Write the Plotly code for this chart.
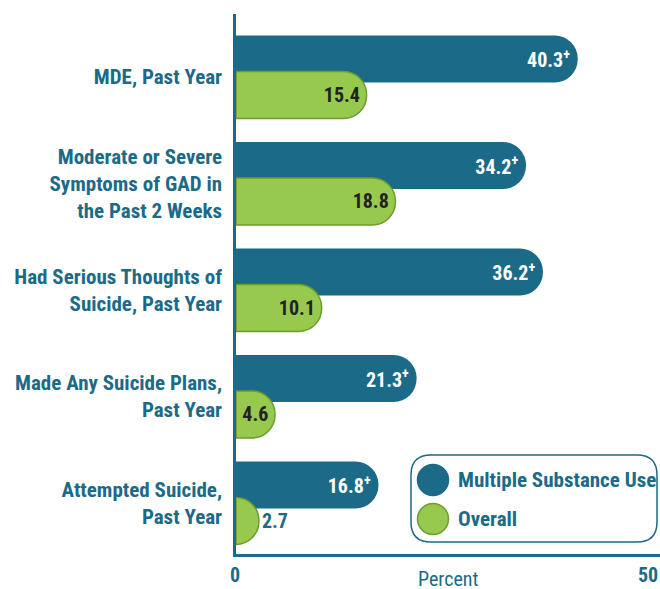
import plotly.graph_objects as go

categories = [
    "MDE, Past Year",
    "Moderate or Severe<br>Symptoms of GAD in<br>the Past 2 Weeks",
    "Had Serious Thoughts of<br>Suicide, Past Year",
    "Made Any Suicide Plans,<br>Past Year",
    "Attempted Suicide,<br>Past Year",
]
multiple_substance_use = [40.3, 34.2, 36.2, 21.3, 16.8]
overall = [15.4, 18.8, 10.1, 4.6, 2.7]
series_names = ["Multiple Substance Use", "Overall"]
x_tick_vals = [0, 50]
x_tick_text = ["0", "50"]
axis_title = "Percent"

DARK = "#1b6a87"
GREEN = "#97c94f"
GREEN_LINE = "#6b9c2e"
TEAL = "#1c6a87"
FONT = "Roboto Condensed, Open Sans Condensed, Liberation Sans Narrow, sans-serif"

W, H = 660, 589
L, R, T, B = 236, 0, 14, 35
PW, PH = W - L - R, H - T - B

def px(xp):
    return (xp - L) / PW

def py(yp):
    return (H - B - yp) / PH

fig = go.Figure()

fig.add_trace(go.Bar(
    y=categories, x=multiple_substance_use, orientation="h",
    name=series_names[0],
    marker=dict(color=DARK, cornerradius=23, line=dict(width=0)),
    offset=-0.39, width=0.441,
    text=[f"{v:.1f}<sup>+</sup>" for v in multiple_substance_use],
    textposition="inside", insidetextanchor="end", constraintext="none",
    insidetextfont=dict(family=FONT, size=20, color="white", weight="bold"),
    showlegend=False, hoverinfo="skip", cliponaxis=False,
))

fig.add_trace(go.Bar(
    y=categories, x=overall, orientation="h",
    name=series_names[1],
    marker=dict(color=GREEN, cornerradius=23, line=dict(width=1.5, color=GREEN_LINE)),
    offset=-0.052, width=0.441,
    text=[f"{v:.1f}" for v in overall],
    textposition=["inside" if v > 4 else "outside" for v in overall],
    insidetextanchor="end", constraintext="none",
    insidetextfont=dict(family=FONT, size=20, color="#222222", weight="bold"),
    outsidetextfont=dict(family=FONT, size=20, color=TEAL, weight="bold"),
    showlegend=False, hoverinfo="skip", cliponaxis=False,
))

# legend drawn manually (rounded box, large circles)
bx0, bx1, by0, by1, r = 411, 657, 455, 542, 20
path = (
    f"M {px(bx0 + r)},{py(by0)} L {px(bx1 - r)},{py(by0)} "
    f"Q {px(bx1)},{py(by0)} {px(bx1)},{py(by0 + r)} "
    f"L {px(bx1)},{py(by1 - r)} Q {px(bx1)},{py(by1)} {px(bx1 - r)},{py(by1)} "
    f"L {px(bx0 + r)},{py(by1)} Q {px(bx0)},{py(by1)} {px(bx0)},{py(by1 - r)} "
    f"L {px(bx0)},{py(by0 + r)} Q {px(bx0)},{py(by0)} {px(bx0 + r)},{py(by0)} Z"
)
shapes = [dict(type="path", xref="paper", yref="paper", path=path,
               line=dict(color=TEAL, width=1.5), fillcolor="white", layer="above")]
legend_items = [(series_names[0], DARK, DARK, 480), (series_names[1], GREEN, GREEN_LINE, 519)]
annotations = []
for name, fill, line, cy in legend_items:
    cx, rad = 433, 15.5
    shapes.append(dict(type="circle", xref="paper", yref="paper",
                       x0=px(cx - rad), x1=px(cx + rad), y0=py(cy + rad), y1=py(cy - rad),
                       fillcolor=fill, line=dict(color=line, width=1.5), layer="above"))
    annotations.append(dict(x=px(456), y=py(cy), xref="paper", yref="paper",
                            text=f"<b>{name}</b>", showarrow=False, xanchor="left", yanchor="middle",
                            font=dict(family=FONT, size=21, color=TEAL)))

for v, t in zip(x_tick_vals, x_tick_text):
    annotations.append(dict(x=v, y=0, xref="x", yref="paper", text=f"<b>{t}</b>",
                            showarrow=False, yshift=-21, yanchor="middle",
                            xanchor="center" if v == 0 else "right",
                            xshift=-1 if v == 0 else 0,
                            font=dict(family=FONT, size=20, color=TEAL)))
annotations.append(dict(x=0.5, y=0, xref="paper", yref="paper", text=axis_title,
                        showarrow=False, yshift=-25, yanchor="middle",
                        font=dict(family=FONT, size=20, color=TEAL)))

fig.update_layout(
    width=W, height=H,
    margin=dict(l=L, r=R, t=T, b=B, autoexpand=False),
    paper_bgcolor="white", plot_bgcolor="white",
    barmode="overlay",
    shapes=shapes, annotations=annotations,
    xaxis=dict(range=[0, 50], showgrid=False, zeroline=False, showticklabels=False,
               showline=True, linecolor=TEAL, linewidth=2.5, ticks="", fixedrange=True),
    yaxis=dict(type="category", range=[4.479, -0.592], showgrid=False, zeroline=False,
               showline=True, linecolor=TEAL, linewidth=2.5, ticks="", ticklabelstandoff=7,
               tickfont=dict(family=FONT, size=21, color=TEAL, weight="bold"), fixedrange=True),
)

fig.write_html("out.html", config={"displayModeBar": False},
               post_script="document.body.style.margin='0px';")
